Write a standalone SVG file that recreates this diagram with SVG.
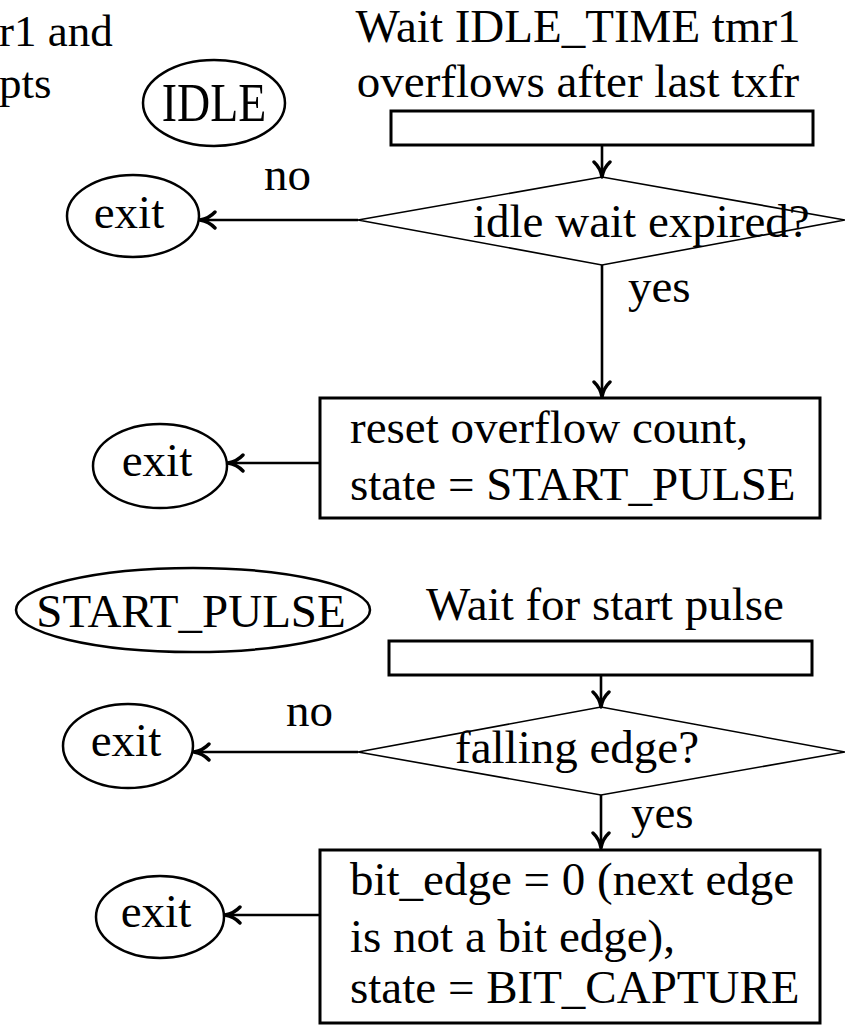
<svg xmlns="http://www.w3.org/2000/svg" width="845" height="1027" viewBox="0 0 845 1027">
  <style>
    text { font-family: "Liberation Serif", "Times New Roman", serif; font-size: 47px; fill: #000; }
    .mid { text-anchor: middle; }
    .note { font-size: 45px; }
    .box { fill: #fff; stroke: #000; stroke-width: 3; }
    .term { fill: #fff; stroke: #000; stroke-width: 2.5; }
    .dec { fill: #fff; stroke: #000; stroke-width: 1.6; }
    .flow { fill: none; stroke: #000; stroke-width: 2.6; marker-end: url(#arrow); }
  </style>
  <defs>
    <!-- bold open chevron head, tip at the line end -->
    <marker id="arrow" viewBox="0 0 20 20" refX="18" refY="10" markerWidth="20" markerHeight="20" markerUnits="userSpaceOnUse" orient="auto">
      <path d="M3,2 Q9,8.5 18,10 Q9,11.5 3,18" fill="none" stroke="#000" stroke-width="3.4" stroke-linecap="round" stroke-linejoin="round"/>
    </marker>
  </defs>

  <rect width="845" height="1027" fill="#fff"/>

  <!-- note text cut off at the left edge -->
  <g id="note">
    <text class="note" x="-1" y="46">r1 and</text>
    <text class="note" x="-1" y="98">pts</text>
  </g>

  <!-- IDLE state -->
  <g id="idle">
    <ellipse class="term" cx="214" cy="103" rx="71" ry="43"/>
    <text class="mid" transform="translate(214,121) scale(0.85,1)" style="font-size:54px">IDLE</text>
  </g>

  <g id="idle-wait">
    <text class="mid" x="578" y="42">Wait IDLE_TIME tmr1</text>
    <text class="mid" x="578" y="97">overflows after last txfr</text>
    <rect class="box" x="391" y="111" width="422" height="34"/>
  </g>

  <g id="idle-check">
    <polygon class="dec" points="358,220 602,177 845,220 602,265"/>
    <text x="473" y="237">idle wait expired?</text>
  </g>

  <g id="exit-1">
    <ellipse class="term" cx="133" cy="216" rx="66" ry="41"/>
    <text class="mid" x="129" y="228">exit</text>
  </g>

  <g id="reset-count">
    <rect class="box" x="320" y="398" width="500" height="120"/>
    <text x="350" y="443">reset overflow count,</text>
    <text x="350" y="500">state = START_PULSE</text>
  </g>

  <g id="exit-2">
    <ellipse class="term" cx="160" cy="466" rx="67" ry="42"/>
    <text class="mid" x="157" y="476">exit</text>
  </g>

  <!-- START_PULSE state -->
  <g id="start-pulse">
    <ellipse class="term" cx="193" cy="610" rx="177" ry="42"/>
    <text class="mid" x="191" y="627">START_PULSE</text>
  </g>

  <g id="pulse-wait">
    <text class="mid" x="605" y="620">Wait for start pulse</text>
    <rect class="box" x="389" y="641" width="423" height="34"/>
  </g>

  <g id="edge-check">
    <polygon class="dec" points="358,752 601,707 845,752 601,795"/>
    <text x="455" y="763">falling edge?</text>
  </g>

  <g id="exit-3">
    <ellipse class="term" cx="128" cy="746" rx="65" ry="42"/>
    <text class="mid" x="126" y="756">exit</text>
  </g>

  <g id="bit-capture">
    <rect class="box" x="320" y="850" width="500" height="173"/>
    <text x="350" y="895">bit_edge = 0 (next edge</text>
    <text x="350" y="952">is not a bit edge),</text>
    <text x="350" y="1003">state = BIT_CAPTURE</text>
  </g>

  <g id="exit-4">
    <ellipse class="term" cx="160" cy="917" rx="64" ry="41"/>
    <text class="mid" x="156" y="927">exit</text>
  </g>

  <!-- connectors -->
  <g id="connectors">
    <line class="flow" x1="602" y1="145" x2="602" y2="177"/>
    <line class="flow" x1="358" y1="220" x2="200" y2="220"/>
    <line class="flow" x1="602" y1="265" x2="602" y2="397"/>
    <line class="flow" x1="319" y1="463" x2="228" y2="463"/>
    <line class="flow" x1="601" y1="675" x2="601" y2="707"/>
    <line class="flow" x1="358" y1="752" x2="194" y2="752"/>
    <line class="flow" x1="601" y1="795" x2="601" y2="848"/>
    <line class="flow" x1="319" y1="915" x2="225" y2="915"/>
  </g>

  <g id="labels">
    <text x="264" y="190">no</text>
    <text x="628" y="302">yes</text>
    <text x="286" y="726">no</text>
    <text x="631" y="828">yes</text>
  </g>
</svg>
